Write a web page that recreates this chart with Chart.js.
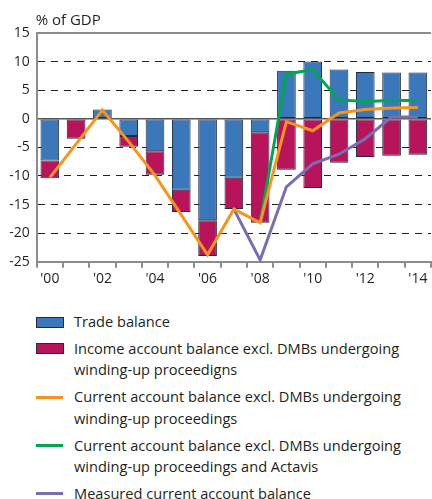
<!DOCTYPE html>
<html>
<head>
<meta charset="utf-8">
<script src="https://cdn.jsdelivr.net/npm/chart.js@4"></script>
<style>
  body { margin: 0; background: #fff; font-family: "Open Sans", sans-serif; color: #231f20; }
  #wrap { position: relative; width: 432px; height: 499px; }
  #legend { position: absolute; left: 36px; top: 311px; font-size: 14.6px; line-height: 21.7px; }
  .item { display: flex; margin-bottom: 5px; }
  .mark { width: 27px; height: 21.7px; position: relative; margin-right: 11px; flex: none; }
  .box { position: absolute; left: 0; top: 5.5px; width: 26px; height: 9px; border: 1px solid #2a2a35; }
  .line { position: absolute; left: 0; top: 9.5px; width: 27px; height: 3px; }
</style>
</head>
<body>
<div id="wrap">
  <canvas id="myChart" width="432" height="290"></canvas>
  <div id="legend"></div>
</div>
<script>
// data
const years = ['2000','2001','2002','2003','2004','2005','2006','2007','2008','2009','2010','2011','2012','2013','2014'];
const tickLabels = ["'00","","'02","","'04","","'06","","'08","","'10","","'12","","'14"];
const tradeBalance = [-7.3, 0, 1.6, -3.0, -5.7, -12.4, -17.75, -10.3, -2.35, 8.4, 10.0, 8.6, 8.2, 8.1, 8.1];
const incomeBalance = [-3.1, -3.5, 0, -1.9, -4.1, -3.9, -6.25, -5.5, -15.85, -8.9, -12.1, -7.7, -6.7, -6.45, -6.3];
const currentExclDMB = [-10.3, -4.4, 1.5, -4.0, -9.9, -16.8, -23.8, -15.8, -18.2, -0.5, -2.1, 1.0, 1.6, 1.9, 1.95];
const currentExclActavis = [null, null, null, null, null, null, null, null, -18.2, 7.8, 8.6, 3.3, 3.0, 3.2, 3.2];
const measuredCurrent = [null, null, null, null, null, null, null, -15.8, -24.7, -11.9, -7.9, -6.2, -3.5, 0.3, 0.3];

const labelsText = [
  ['Trade balance'],
  ['Income account balance excl. DMBs undergoing', 'winding-up proceedigns'],
  ['Current account balance excl. DMBs undergoing', 'winding-up proceedings'],
  ['Current account balance excl. DMBs undergoing', 'winding-up proceedings and Actavis'],
  ['Measured current account balance']
];

const blue = '#3a77bb';
const magenta = '#b8145c';
const orange = '#f7941d';
const green = '#00a651';
const purple = '#7a6db1';

const titlePlugin = {
  id: 'yTitle',
  afterDraw(chart) {
    const c = chart.ctx;
    c.save();
    c.font = '15px "Open Sans"';
    c.fillStyle = '#231f20';
    c.textBaseline = 'middle';
    c.fillText('% of GDP', chart.chartArea.left - 1, 20.5);
    c.restore();
  }
};

const ctx = document.getElementById('myChart').getContext('2d');
const myChart = new Chart(ctx, {
  type: 'bar',
  data: {
    labels: years,
    datasets: [
      { type: 'line', label: labelsText[2].join(' '), data: currentExclDMB, borderColor: orange, borderWidth: 3, pointRadius: 0, order: 0, tension: 0, stack: 'orange' },
      { type: 'line', label: labelsText[3].join(' '), data: currentExclActavis, borderColor: green, borderWidth: 3, pointRadius: 0, order: 0, tension: 0, stack: 'green' },
      { type: 'line', label: labelsText[4].join(' '), data: measuredCurrent, borderColor: purple, borderWidth: 3, pointRadius: 0, order: 0, tension: 0, stack: 'purple' },
      { label: labelsText[0].join(' '), data: tradeBalance, backgroundColor: blue, borderColor: '#1f2a3a', borderWidth: 1, borderSkipped: false, order: 1, stack: 'bars' },
      { label: labelsText[1].join(' '), data: incomeBalance, backgroundColor: magenta, borderColor: '#1f2a3a', borderWidth: 1, borderSkipped: false, order: 1, stack: 'bars' }
    ]
  },
  options: {
    responsive: false,
    animation: false,
    layout: { padding: { top: 33, right: 1, left: 0, bottom: 0 } },
    plugins: { legend: { display: false }, tooltip: { enabled: false } },
    datasets: { bar: { barPercentage: 0.71, categoryPercentage: 1 } },
    scales: {
      x: {
        stacked: true,
        afterFit: s => { s.height = 28.3; },
        grid: { offset: true, drawOnChartArea: false, tickLength: 6, color: '#8c8c8c', lineWidth: 2 },
        border: { color: '#8c8c8c', width: 2 },
        ticks: {
          autoSkip: false, maxRotation: 0, padding: 3,
          color: '#231f20', font: { family: 'Open Sans', size: 14 },
          callback: (v, i) => tickLabels[i]
        }
      },
      y: {
        stacked: true,
        min: -25, max: 15,
        afterFit: s => { s.width = 36.7; },
        ticks: { stepSize: 5, padding: 7, color: '#231f20', font: { family: 'Open Sans', size: 14 } },
        grid: {
          drawTicks: false,
          color: c => c.tick && c.tick.value === 15 ? '#8c8c8c' : (c.tick && c.tick.value === 0 ? '#555' : '#222'),
          lineWidth: c => c.tick && c.tick.value === 15 ? 2 : (c.tick && c.tick.value === 0 ? 1.5 : 1)
        },
        border: {
          color: '#8c8c8c', width: 2,
          dash: c => (!c.tick || c.tick.value === 15 || c.tick.value === 0) ? [] : [7, 6]
        }
      }
    }
  },
  plugins: [titlePlugin]
});

// html legend
const legendColors = [
  { kind: 'box', color: blue },
  { kind: 'box', color: magenta },
  { kind: 'line', color: orange },
  { kind: 'line', color: green },
  { kind: 'line', color: purple }
];
const legend = document.getElementById('legend');
labelsText.forEach((lines, i) => {
  const item = document.createElement('div');
  item.className = 'item';
  const mark = document.createElement('div');
  mark.className = 'mark';
  const sw = document.createElement('div');
  sw.className = legendColors[i].kind;
  sw.style.background = legendColors[i].color;
  mark.appendChild(sw);
  const txt = document.createElement('div');
  txt.innerHTML = lines.join('<br>');
  item.appendChild(mark);
  item.appendChild(txt);
  legend.appendChild(item);
});
</script>
</body>
</html>
